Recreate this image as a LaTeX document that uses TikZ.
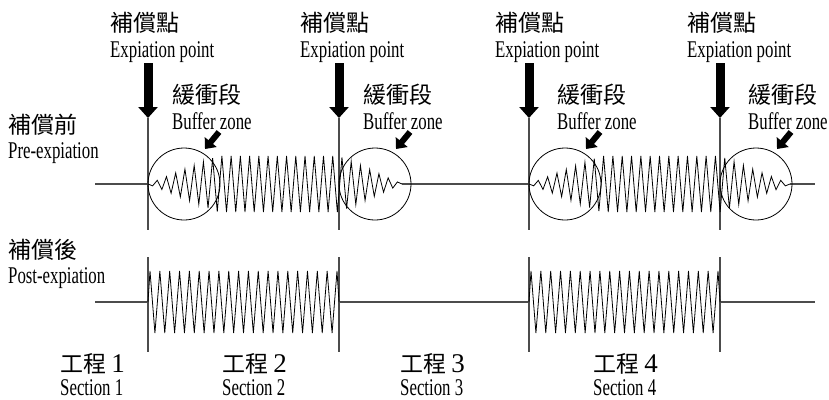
\documentclass[tikz,border=0pt]{standalone}
\usepackage{fontspec}
\setmainfont{Liberation Serif}
\newfontfamily\cjk{Noto Sans CJK TC}
\newfontfamily\eng[FakeStretch=0.7]{Liberation Serif}
\usepackage{tikz}
\usetikzlibrary{arrows.meta}

\begin{document}
\begin{tikzpicture}[x=1pt,y=-1pt,>=Latex,
  axisline/.style={black!70,line width=1.1pt},
  zig/.style={black,line width=0.8pt},
  ring/.style={black,line width=0.8pt},
  bigarr/.style={line width=9pt,-{Triangle[width=19pt,length=11pt]}},
  smallarr/.style={line width=6pt,-{Triangle[width=15pt,length=9pt]}},
  zh/.style={font={\fontsize{23}{23}\cjk},anchor=base west,inner sep=0pt},
  en/.style={font={\fontsize{24}{24}\eng},anchor=base west,inner sep=0pt}]
  \useasboundingbox (0,0) rectangle (829,399);
  \foreach \x/\n in {148/1,339/2,529/3,720/4}{
    \coordinate (tip\n) at (\x,118);
    \coordinate (low\n) at (\x,230);
    \coordinate (up\n) at (\x,257);
    \coordinate (bot\n) at (\x,352);
    \coordinate (bar\n) at (\x,63);
    \draw[axisline] (tip\n) -- (low\n);
    \draw[axisline] (up\n) -- (bot\n);
    \draw[bigarr] (bar\n) -- (tip\n);
  }
  \coordinate (pre0) at (95,184);
  \coordinate (pre1) at (148,184);
  \coordinate (pre2) at (402,184);
  \coordinate (pre3) at (529,184);
  \coordinate (pre4) at (790,184);
  \coordinate (pre5) at (815,184);
  \draw[axisline] (pre0) -- (pre1) (pre2) -- (pre3) (pre4) -- (pre5);
  \coordinate (post0) at (95,302);
  \coordinate (post1) at (148,302);
  \coordinate (post2) at (339,302);
  \coordinate (post3) at (529,302);
  \coordinate (post4) at (720,302);
  \coordinate (post5) at (815,302);
  \draw[axisline] (post0) -- (post1) (post2) -- (post3) (post4) -- (post5);
  \foreach \s/\e/\g/\d/\n in {148/402/70/63/55,529/790/72/70/56}{
    \draw[zig] (\s,184) \foreach \i [evaluate=\i as \xx using {\s+(\e-\s)*\i/\n},
      evaluate=\i as \yy using {184-28*min(1,(\xx-\s)/\g,(\e-\xx)/\d)*(1-2*mod(\i,2))}]
      in {1,...,\n}{ -- (\xx,\yy) };
  }
  \foreach \s/\e in {148/339,529/720}{
    \draw[zig] (\s,302) \foreach \i [evaluate=\i as \xx using {\s+2+(\e-\s-4)*(\i-1)/38},
      evaluate=\i as \yy using {302-31*(2*mod(\i,2)-1)}]
      in {1,...,39}{ -- (\xx,\yy) } -- (\e,302);
  }
  \foreach \x/\n in {184/1,375/2,565/3,756/4}{
    \draw[ring] (\x,184) circle (36pt);
    \coordinate (aim\n) at (\x+21,149);
    \coordinate (tail\n) at (\x+35,132);
    \draw[smallarr] (tail\n) -- (aim\n);
  }
  \foreach \x/\n in {110/1,300/2,495/3,687/4}{
    \node[zh] (ep\n) at (\x,31) {補償點};
    \node[en] (epe\n) at (\x,57) {Expiation point};
  }
  \foreach \x/\n in {172/1,363/2,557/3,748/4}{
    \node[zh] (bz\n) at (\x,103) {緩衝段};
    \node[en] (bze\n) at (\x,129) {Buffer zone};
  }
  \node[zh] (pre) at (8,133) {補償前};
  \node[en] (pree) at (8,158) {Pre-expiation};
  \node[zh] (post) at (8,258) {補償後};
  \node[en] (poste) at (8,283) {Post-expiation};
  \foreach \x/\n in {60/1,222/2,400/3,593/4}{
    \node[zh] (sec\n) at (\x,372) {工程 {\fontsize{27}{27}\rmfamily\n}};
    \node[en] (sece\n) at (\x,395) {Section \n};
  }
\end{tikzpicture}
\end{document}
